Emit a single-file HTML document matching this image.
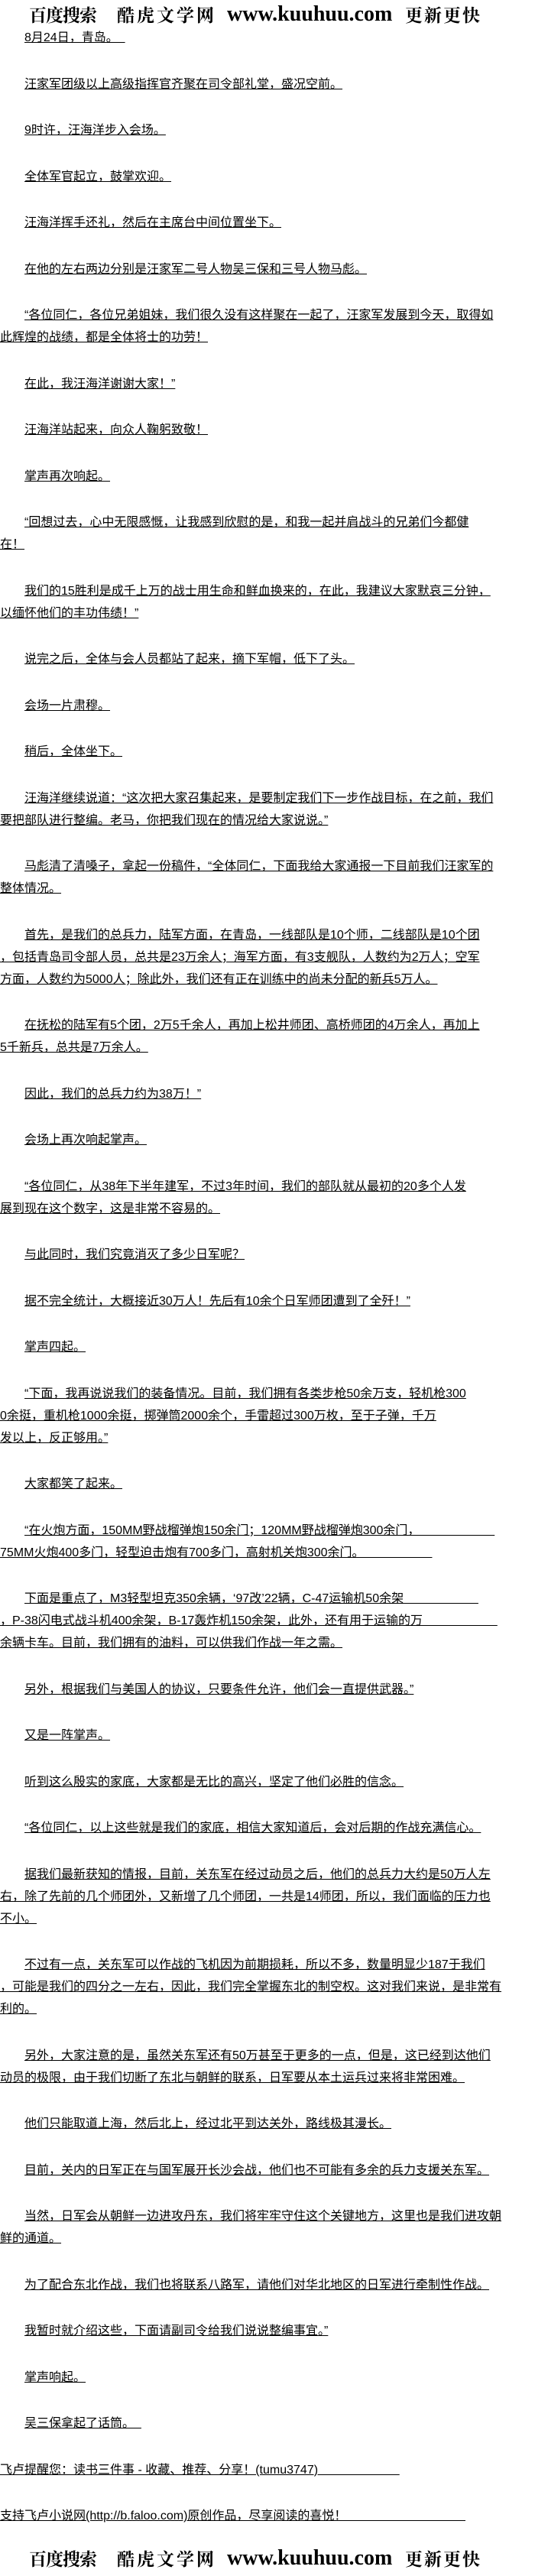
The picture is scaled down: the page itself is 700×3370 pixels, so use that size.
<!DOCTYPE html>
<html>
<head>
<meta charset="utf-8">
<style>
html,body{margin:0;padding:0;background:#fff;}
body{width:700px;height:3370px;position:relative;overflow:hidden;color:#000;
font-family:"Liberation Sans","Noto Sans CJK SC","WenQuanYi Zen Hei",sans-serif;font-size:16px;}
.logo{position:absolute;left:0;width:700px;height:30px;white-space:nowrap;}
.logo span{position:absolute;top:0;font-weight:bold;}
.cj{font-family:"Noto Serif CJK SC","Liberation Serif",serif;font-size:23px;line-height:30px;}
.en{font-family:"Liberation Serif",serif;font-size:28px;line-height:30px;}
#content{position:absolute;left:0;top:35px;width:700px;}
p{margin:0 0 31.5px 0;line-height:29px;text-indent:32px;white-space:nowrap;}
p.ni{text-indent:0;}
u{text-decoration:underline;text-underline-offset:1px;}
</style>
</head>
<body>
<div class="logo" style="top:4px">
<span class="cj" style="left:38px;letter-spacing:-1px">百度搜索</span>
<span class="cj" style="left:153px;letter-spacing:3px">酷虎文学网</span>
<span class="en" style="left:297px">www.kuuhuu.com</span>
<span class="cj" style="left:530px;letter-spacing:2px">更新更快</span>
</div>
<div id="content">
<p><u>8月24日，青岛。&nbsp;&nbsp;</u></p>
<p><u>汪家军团级以上高级指挥官齐聚在司令部礼堂，盛况空前。</u></p>
<p><u>9时许，汪海洋步入会场。</u></p>
<p><u>全体军官起立，鼓掌欢迎。</u></p>
<p><u>汪海洋挥手还礼，然后在主席台中间位置坐下。</u></p>
<p><u>在他的左右两边分别是汪家军二号人物吴三保和三号人物马彪。</u></p>
<p><u>“各位同仁，各位兄弟姐妹，我们很久没有这样聚在一起了，汪家军发展到今天，取得如<br>此辉煌的战绩，都是全体将士的功劳！</u></p>
<p><u>在此，我汪海洋谢谢大家！”</u></p>
<p><u>汪海洋站起来，向众人鞠躬致敬！</u></p>
<p><u>掌声再次响起。</u></p>
<p><u>“回想过去，心中无限感慨，让我感到欣慰的是，和我一起并肩战斗的兄弟们今都健<br>在！</u></p>
<p><u>我们的15胜利是成千上万的战士用生命和鲜血换来的，在此，我建议大家默哀三分钟，<br>以缅怀他们的丰功伟绩！”</u></p>
<p><u>说完之后，全体与会人员都站了起来，摘下军帽，低下了头。</u></p>
<p><u>会场一片肃穆。</u></p>
<p><u>稍后，全体坐下。</u></p>
<p><u>汪海洋继续说道：“这次把大家召集起来，是要制定我们下一步作战目标，在之前，我们<br>要把部队进行整编。老马，你把我们现在的情况给大家说说。”</u></p>
<p><u>马彪清了清嗓子，拿起一份稿件，“全体同仁，下面我给大家通报一下目前我们汪家军的<br>整体情况。</u></p>
<p><u>首先，是我们的总兵力，陆军方面，在青岛，一线部队是10个师，二线部队是10个团<br>，包括青岛司令部人员，总共是23万余人；海军方面，有3支舰队，人数约为2万人；空军<br>方面，人数约为5000人；除此外，我们还有正在训练中的尚未分配的新兵5万人。</u></p>
<p><u>在抚松的陆军有5个团，2万5千余人，再加上松井师团、高桥师团的4万余人，再加上<br>5千新兵，总共是7万余人。</u></p>
<p><u>因此，我们的总兵力约为38万！”</u></p>
<p><u>会场上再次响起掌声。</u></p>
<p><u>“各位同仁，从38年下半年建军，不过3年时间，我们的部队就从最初的20多个人发<br>展到现在这个数字，这是非常不容易的。</u></p>
<p><u>与此同时，我们究竟消灭了多少日军呢？</u></p>
<p><u>据不完全统计，大概接近30万人！先后有10余个日军师团遭到了全歼！”</u></p>
<p><u>掌声四起。</u></p>
<p><u>“下面，我再说说我们的装备情况。目前，我们拥有各类步枪50余万支，轻机枪300<br>0余挺，重机枪1000余挺，掷弹筒2000余个，手雷超过300万枚，至于子弹，千万<br>发以上，反正够用。”</u></p>
<p><u>大家都笑了起来。</u></p>
<p><u>“在火炮方面，150MM野战榴弹炮150余门；120MM野战榴弹炮300余门，&nbsp;&nbsp;&nbsp;&nbsp;&nbsp;&nbsp;&nbsp;&nbsp;&nbsp;&nbsp;&nbsp;&nbsp;&nbsp;&nbsp;&nbsp;&nbsp;&nbsp;&nbsp;&nbsp;&nbsp;&nbsp;&nbsp;<br>75MM火炮400多门，轻型迫击炮有700多门，高射机关炮300余门。&nbsp;&nbsp;&nbsp;&nbsp;&nbsp;&nbsp;&nbsp;&nbsp;&nbsp;&nbsp;&nbsp;&nbsp;&nbsp;&nbsp;&nbsp;&nbsp;&nbsp;&nbsp;&nbsp;&nbsp;</u></p>
<p><u>下面是重点了，M3轻型坦克350余辆，‘97改’22辆，C-47运输机50余架&nbsp;&nbsp;&nbsp;&nbsp;&nbsp;&nbsp;&nbsp;&nbsp;&nbsp;&nbsp;&nbsp;&nbsp;&nbsp;&nbsp;&nbsp;&nbsp;&nbsp;&nbsp;&nbsp;&nbsp;&nbsp;&nbsp;<br>，P-38闪电式战斗机400余架，B-17轰炸机150余架，此外，还有用于运输的万&nbsp;&nbsp;&nbsp;&nbsp;&nbsp;&nbsp;&nbsp;&nbsp;&nbsp;&nbsp;&nbsp;&nbsp;&nbsp;&nbsp;&nbsp;&nbsp;&nbsp;&nbsp;&nbsp;&nbsp;&nbsp;&nbsp;<br>余辆卡车。目前，我们拥有的油料，可以供我们作战一年之需。</u></p>
<p><u>另外，根据我们与美国人的协议，只要条件允许，他们会一直提供武器。”</u></p>
<p><u>又是一阵掌声。</u></p>
<p><u>听到这么殷实的家底，大家都是无比的高兴，坚定了他们必胜的信念。</u></p>
<p><u>“各位同仁，以上这些就是我们的家底，相信大家知道后，会对后期的作战充满信心。</u></p>
<p><u>据我们最新获知的情报，目前，关东军在经过动员之后，他们的总兵力大约是50万人左<br>右，除了先前的几个师团外，又新增了几个师团，一共是14师团，所以，我们面临的压力也<br>不小。</u></p>
<p><u>不过有一点，关东军可以作战的飞机因为前期损耗，所以不多，数量明显少187于我们<br>，可能是我们的四分之一左右，因此，我们完全掌握东北的制空权。这对我们来说，是非常有<br>利的。</u></p>
<p><u>另外，大家注意的是，虽然关东军还有50万甚至于更多的一点，但是，这已经到达他们<br>动员的极限，由于我们切断了东北与朝鲜的联系，日军要从本土运兵过来将非常困难。</u></p>
<p><u>他们只能取道上海，然后北上，经过北平到达关外，路线极其漫长。</u></p>
<p><u>目前，关内的日军正在与国军展开长沙会战，他们也不可能有多余的兵力支援关东军。</u></p>
<p><u>当然，日军会从朝鲜一边进攻丹东，我们将牢牢守住这个关键地方，这里也是我们进攻朝<br>鲜的通道。</u></p>
<p><u>为了配合东北作战，我们也将联系八路军，请他们对华北地区的日军进行牵制性作战。</u></p>
<p><u>我暂时就介绍这些，下面请副司令给我们说说整编事宜。”</u></p>
<p><u>掌声响起。</u></p>
<p><u>吴三保拿起了话筒。&nbsp;&nbsp;</u></p>
<p class="ni"><u>飞卢提醒您：读书三件事 - 收藏、推荐、分享！(tumu3747)&nbsp;&nbsp;&nbsp;&nbsp;&nbsp;&nbsp;&nbsp;&nbsp;&nbsp;&nbsp;&nbsp;&nbsp;&nbsp;&nbsp;&nbsp;&nbsp;&nbsp;&nbsp;&nbsp;&nbsp;&nbsp;&nbsp;&nbsp;&nbsp;</u></p>
<p class="ni"><u>支持飞卢小说网(http://b.faloo.com)原创作品，尽享阅读的喜悦！&nbsp;&nbsp;&nbsp;&nbsp;&nbsp;&nbsp;&nbsp;&nbsp;&nbsp;&nbsp;&nbsp;&nbsp;&nbsp;&nbsp;&nbsp;&nbsp;&nbsp;&nbsp;&nbsp;&nbsp;&nbsp;&nbsp;&nbsp;&nbsp;&nbsp;&nbsp;&nbsp;&nbsp;&nbsp;&nbsp;&nbsp;&nbsp;&nbsp;&nbsp;&nbsp;</u></p>
</div>
<div class="logo" style="top:3332px">
<span class="cj" style="left:38px;letter-spacing:-1px">百度搜索</span>
<span class="cj" style="left:153px;letter-spacing:3px">酷虎文学网</span>
<span class="en" style="left:297px">www.kuuhuu.com</span>
<span class="cj" style="left:530px;letter-spacing:2px">更新更快</span>
</div>
</body>
</html>
